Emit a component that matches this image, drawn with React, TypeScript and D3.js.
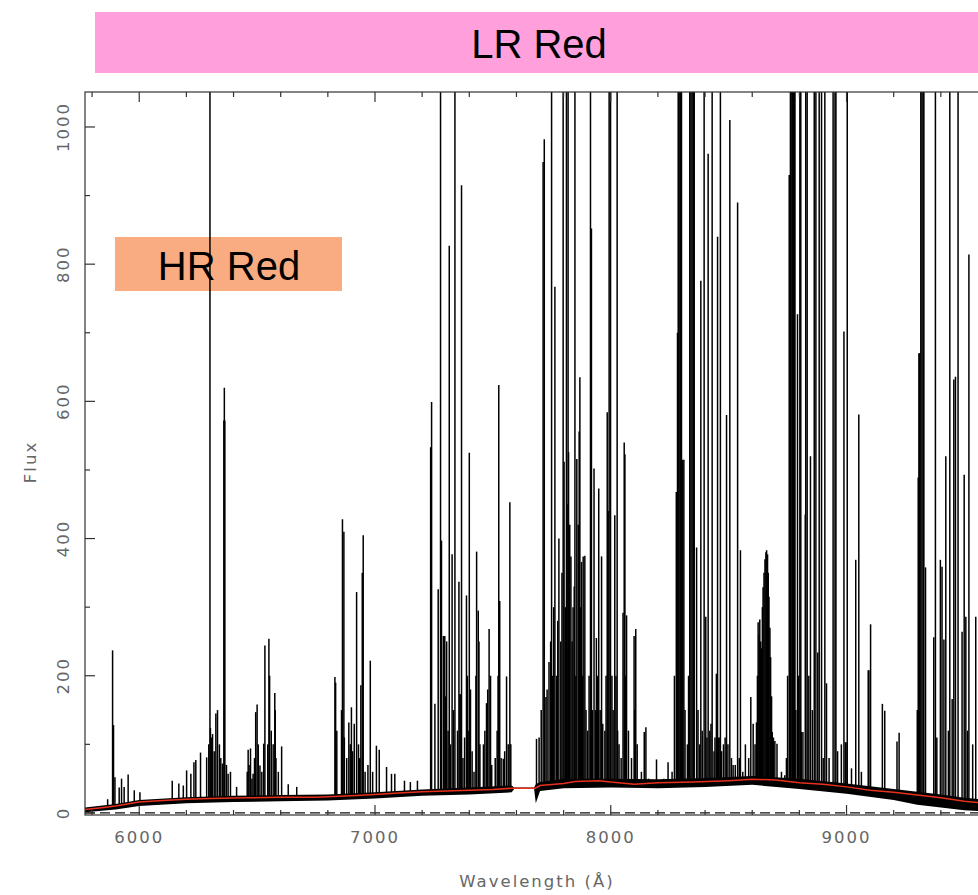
import React from "react";
import * as d3 from "d3";

// ---- data ----
const contWl = [5770, 5850, 5900, 6000, 6100, 6200, 6300, 6450, 6600, 6750, 6900, 7000, 7100, 7200, 7300, 7400, 7500, 7580, 7680, 7700, 7800, 7850, 7950, 8000, 8100, 8200, 8350, 8500, 8600, 8700, 8800, 8900, 9000, 9100, 9200, 9300, 9400, 9500, 9600];
const contFlux = [5, 8, 10, 16, 18, 20, 21, 22, 23, 23, 25, 27, 29, 31, 32, 33, 34, 36, 36, 40, 43, 46, 47, 45, 42, 44, 45, 47, 49, 48, 44, 42, 38, 33, 30, 26, 22, 17, 14];

const bandWl = [5770, 5900, 6000, 6200, 6400, 6600, 6800, 7000, 7200, 7400, 7580, 7590, 7675, 7682, 7700, 7800, 8000, 8200, 8400, 8600, 8800, 9000, 9200, 9300, 9400, 9500, 9600];
const bandLo = [1, 5, 10, 14, 16, 17, 18, 21, 25, 27, 30, 35, 35, 14, 32, 36, 37, 36, 38, 41, 35, 28, 19, 12, 8, 4, 2];
const bandHi = [8, 13, 19, 23, 25, 26, 27, 30, 34, 37, 40, 37, 37, 42, 45, 50, 50, 49, 51, 54, 50, 43, 35, 31, 27, 22, 19];

// emission lines: [wavelength, peak flux]
const linesBlue: [number, number][] = [
  [5866, 20], [5887, 237], [5889, 128], [5891, 128], [5897, 52], [5915, 37], [5925, 50], [5936, 38], [5953, 56], [5979, 33], [6003, 30],
  [6140, 47], [6168, 43], [6187, 40], [6201, 62], [6219, 57], [6232, 74], [6240, 77], [6260, 88], [6286, 81], [6295, 100], [6300, 1200],
  [6302, 124], [6306, 110], [6311, 115], [6318, 90], [6325, 145], [6332, 150], [6340, 100], [6346, 80], [6353, 72], [6359, 572], [6361, 620],
  [6363, 572], [6370, 70], [6377, 57], [6387, 60], [6413, 38], [6458, 60], [6462, 92], [6466, 70], [6472, 94], [6478, 50], [6483, 57],
  [6489, 80], [6494, 147], [6500, 158], [6505, 100], [6512, 69], [6520, 60], [6528, 101], [6533, 244], [6545, 100], [6550, 254], [6553, 200],
  [6560, 120], [6568, 100], [6575, 175], [6577, 150], [6580, 80], [6590, 60], [6604, 97], [6632, 42], [6668, 38],
];
const linesMid: [number, number][] = [
  [6830, 198], [6833, 190], [6838, 120], [6858, 150], [6862, 428], [6868, 410], [6870, 110], [6880, 80], [6889, 132], [6895, 100], [6900, 154],
  [6905, 90], [6912, 130], [6922, 322], [6930, 100], [6935, 80], [6940, 186], [6946, 350], [6950, 405], [6958, 60], [6970, 70], [6980, 222],
  [6990, 60], [7006, 98], [7018, 92], [7049, 67], [7070, 57], [7084, 57], [7125, 47], [7150, 45], [7180, 47], [7236, 533], [7240, 599],
  [7254, 159], [7268, 326], [7278, 1200], [7282, 397], [7290, 258], [7296, 258], [7300, 170], [7304, 250], [7310, 120], [7315, 827],
  [7320, 100], [7327, 377], [7333, 150], [7339, 1200], [7350, 120], [7356, 337], [7360, 173], [7364, 173], [7367, 915], [7373, 80],
  [7380, 110], [7388, 317], [7392, 200], [7395, 120], [7400, 525], [7405, 180], [7412, 90], [7420, 60], [7428, 200], [7431, 381],
  [7438, 295], [7441, 250], [7445, 100], [7460, 100], [7466, 120], [7473, 160], [7478, 180], [7484, 268], [7490, 200], [7495, 70],
  [7510, 80], [7518, 120], [7522, 200], [7525, 624], [7529, 309], [7535, 80], [7544, 79], [7550, 90], [7558, 199], [7565, 100],
  [7572, 453], [7576, 100],
];
const linesRed: [number, number][] = [
  [7685, 108], [7696, 110], [7705, 150], [7713, 949], [7718, 982], [7725, 169], [7730, 180], [7738, 220], [7745, 250], [7749, 1200],
  [7753, 200], [7758, 300], [7763, 767], [7770, 200], [7775, 280], [7780, 400], [7788, 250], [7793, 350], [7798, 1200], [7802, 512],
  [7807, 300], [7812, 1200], [7815, 450], [7819, 1200], [7821, 526], [7826, 420], [7831, 374], [7836, 250], [7840, 300], [7845, 330],
  [7848, 1200], [7852, 200], [7856, 516], [7862, 420], [7866, 556], [7869, 635], [7872, 300], [7876, 366], [7880, 200], [7883, 374],
  [7890, 375], [7895, 150], [7902, 120], [7908, 200], [7914, 1200], [7918, 852], [7922, 150], [7929, 502], [7935, 150], [7939, 255],
  [7944, 200], [7949, 473], [7955, 150], [7961, 374], [7966, 130], [7975, 120], [7980, 200], [7985, 584], [7989, 440], [7993, 1200],
  [7999, 1200], [8005, 200], [8010, 150], [8017, 434], [8022, 200], [8027, 1200], [8029, 120], [8035, 100], [8044, 80], [8052, 292],
  [8057, 540], [8060, 523], [8063, 200], [8067, 288], [8075, 120], [8088, 80], [8099, 258], [8102, 150], [8106, 268], [8112, 100],
  [8130, 60], [8142, 118], [8149, 125], [8160, 50], [8180, 40], [8194, 78], [8210, 45], [8225, 50], [8243, 74], [8260, 60], [8270, 200],
  [8278, 468], [8280, 468], [8283, 700], [8286, 1200], [8290, 1200], [8295, 1200], [8300, 1200], [8305, 515], [8310, 515], [8315, 150],
  [8325, 100], [8330, 200], [8335, 1200], [8340, 1200], [8345, 1200], [8350, 1200], [8354, 1200], [8364, 387], [8370, 150], [8377, 100],
  [8382, 776], [8388, 120], [8396, 1200], [8403, 286], [8408, 110], [8413, 961], [8420, 120], [8425, 130], [8430, 1200], [8438, 90],
  [8442, 110], [8448, 203], [8453, 840], [8458, 110], [8463, 110], [8465, 1200], [8470, 90], [8478, 100], [8485, 110], [8491, 580],
  [8497, 100], [8505, 1010], [8512, 80], [8519, 70], [8528, 70], [8538, 890], [8545, 80], [8550, 383], [8560, 60], [8571, 100],
  [8585, 80], [8594, 169], [8604, 130],
];
const linesBump: [number, number][] = [
  [8612, 100], [8618, 132], [8622, 200], [8625, 278], [8629, 260], [8632, 282], [8636, 250], [8639, 240], [8643, 300], [8646, 329],
  [8650, 350], [8654, 370], [8658, 380], [8661, 383], [8665, 377], [8668, 350], [8671, 315], [8675, 270], [8678, 227], [8682, 170],
  [8685, 118], [8690, 110], [8696, 105], [8705, 101],
];
const linesIR: [number, number][] = [
  [8724, 60], [8738, 55], [8745, 80], [8750, 200], [8757, 930], [8759, 930], [8762, 1200], [8765, 1200], [8770, 1200], [8775, 1200],
  [8779, 1200], [8781, 1200], [8785, 150], [8792, 727], [8797, 200], [8802, 1200], [8806, 1200], [8808, 118], [8815, 118], [8825, 435],
  [8827, 1200], [8833, 1200], [8840, 200], [8847, 520], [8855, 150], [8863, 1200], [8870, 1200], [8878, 234], [8884, 1200], [8894, 1200],
  [8901, 80], [8908, 1200], [8915, 189], [8926, 80], [8943, 1200], [8951, 1200], [8955, 1200], [8962, 90], [8978, 100], [8989, 702],
  [8995, 103], [8998, 103], [9003, 1200], [9021, 65], [9039, 369], [9052, 581], [9063, 60], [9092, 208], [9095, 208], [9102, 275],
  [9152, 159], [9162, 149], [9214, 104], [9223, 117], [9300, 150], [9304, 489], [9307, 670], [9310, 670], [9315, 1200], [9320, 1200],
  [9325, 1200], [9328, 1200], [9335, 358], [9370, 256], [9377, 1200], [9383, 110], [9398, 369], [9405, 359], [9413, 253], [9421, 520],
  [9432, 120], [9438, 1200], [9448, 166], [9455, 632], [9462, 636], [9473, 1200], [9490, 264], [9499, 493], [9506, 286], [9513, 120],
  [9519, 814], [9535, 100], [9548, 286],
];

const xMajorTicks = [6000, 7000, 8000, 9000];
const yMajorTicks = [0, 200, 400, 600, 800, 1000];
const xLabel = "Wavelength (Å)";
const yLabel = "Flux";
const boxLR = "LR Red";
const boxHR = "HR Red";

// ---- layout ----
const W = 978, H = 895;
const L = 85, T = 92, R = 988, B = 815;

export default function App() {
  const x = d3.scaleLinear().domain([5770, 9600]).range([L, R]);
  const y = d3.scaleLinear().domain([-3, 1051]).range([B, T]);
  const cont = d3.scaleLinear().domain(contWl).range(contFlux).clamp(true);

  const allLines = [...linesBlue, ...linesMid, ...linesRed, ...linesBump, ...linesIR];

  const band = d3
    .area<number>()
    .x((d) => x(d))
    .y0((_, i) => y(bandLo[i]))
    .y1((_, i) => y(bandHi[i]))(bandWl) as string;

  const contLine = d3
    .line<number>()
    .x((d) => x(d))
    .y((_, i) => y(contFlux[i]))(contWl) as string;

  const xMinor = d3.range(5800, 9601, 200).filter((v) => !xMajorTicks.includes(v));
  const yMinor = d3.range(100, 1051, 200);

  const tickFont = { fontFamily: "DejaVu Sans", fontSize: 16.5, fill: "#666", letterSpacing: 2 } as const;

  return (
    <svg width={W} height={H} style={{ position: "absolute", left: 0, top: 0, background: "#fff" }}>
      <defs>
        <clipPath id="plotclip">
          <rect x={L} y={T} width={R - L} height={B - T} />
        </clipPath>
      </defs>
      <rect x={0} y={0} width={W} height={H} fill="#fff" />

      {/* LR Red banner */}
      <rect x={95} y={12} width={W - 95 + 10} height={61} fill="#FFA0DC" />
      <text x={539} y={44} textAnchor="middle" dominantBaseline="central" fontFamily="Liberation Sans, Arial, sans-serif" fontSize={40} fill="#000">
        {boxLR}
      </text>

      {/* HR Red box */}
      <rect x={115} y={237} width={227} height={54} fill="#F9AC81" />

      {/* spectrum */}
      <g clipPath="url(#plotclip)">
        <path d={band} fill="#000" />
        {allLines.map(([wl, pk], i) => (
          <line key={i} x1={x(wl)} x2={x(wl)} y1={y(cont(wl))} y2={y(pk)} stroke="#000" strokeWidth={1.5} />
        ))}
        <path d={contLine} fill="none" stroke="#E8301C" strokeWidth={1.5} />
        <line x1={L} x2={R} y1={y(0)} y2={y(0)} stroke="#111" strokeWidth={1.3} strokeDasharray="10 5" />
      </g>

      <text x={229} y={266} textAnchor="middle" dominantBaseline="central" fontFamily="Liberation Sans, Arial, sans-serif" fontSize={40} fill="#000">
        {boxHR}
      </text>

      {/* frame */}
      <rect x={L} y={T} width={R - L} height={B - T} fill="none" stroke="#333" strokeWidth={1.2} />

      {/* x ticks */}
      {xMajorTicks.map((v) => (
        <g key={"xM" + v}>
          <line x1={x(v)} x2={x(v)} y1={B} y2={B - 10} stroke="#333" strokeWidth={1.2} />
          <line x1={x(v)} x2={x(v)} y1={T} y2={T + 10} stroke="#333" strokeWidth={1.2} />
          <text x={x(v)} y={843} textAnchor="middle" {...tickFont}>
            {String(v)}
          </text>
        </g>
      ))}
      {xMinor.map((v) => (
        <g key={"xm" + v}>
          <line x1={x(v)} x2={x(v)} y1={B} y2={B - 5} stroke="#333" strokeWidth={1.2} />
          <line x1={x(v)} x2={x(v)} y1={T} y2={T + 5} stroke="#333" strokeWidth={1.2} />
        </g>
      ))}

      {/* y ticks */}
      {yMajorTicks.map((v) => (
        <g key={"yM" + v}>
          <line x1={L} x2={L + 10} y1={y(v)} y2={y(v)} stroke="#333" strokeWidth={1.2} />
          <line x1={R} x2={R - 10} y1={y(v)} y2={y(v)} stroke="#333" strokeWidth={1.2} />
          <text transform={`translate(69,${y(v)}) rotate(-90)`} textAnchor="middle" {...tickFont}>
            {String(v)}
          </text>
        </g>
      ))}
      {yMinor.map((v) => (
        <g key={"ym" + v}>
          <line x1={L} x2={L + 5} y1={y(v)} y2={y(v)} stroke="#333" strokeWidth={1.2} />
          <line x1={R} x2={R - 5} y1={y(v)} y2={y(v)} stroke="#333" strokeWidth={1.2} />
        </g>
      ))}

      {/* axis labels */}
      <text x={537} y={887} textAnchor="middle" {...tickFont}>
        {xLabel}
      </text>
      <text transform={`translate(36,462) rotate(-90)`} textAnchor="middle" {...tickFont}>
        {yLabel}
      </text>
    </svg>
  );
}
